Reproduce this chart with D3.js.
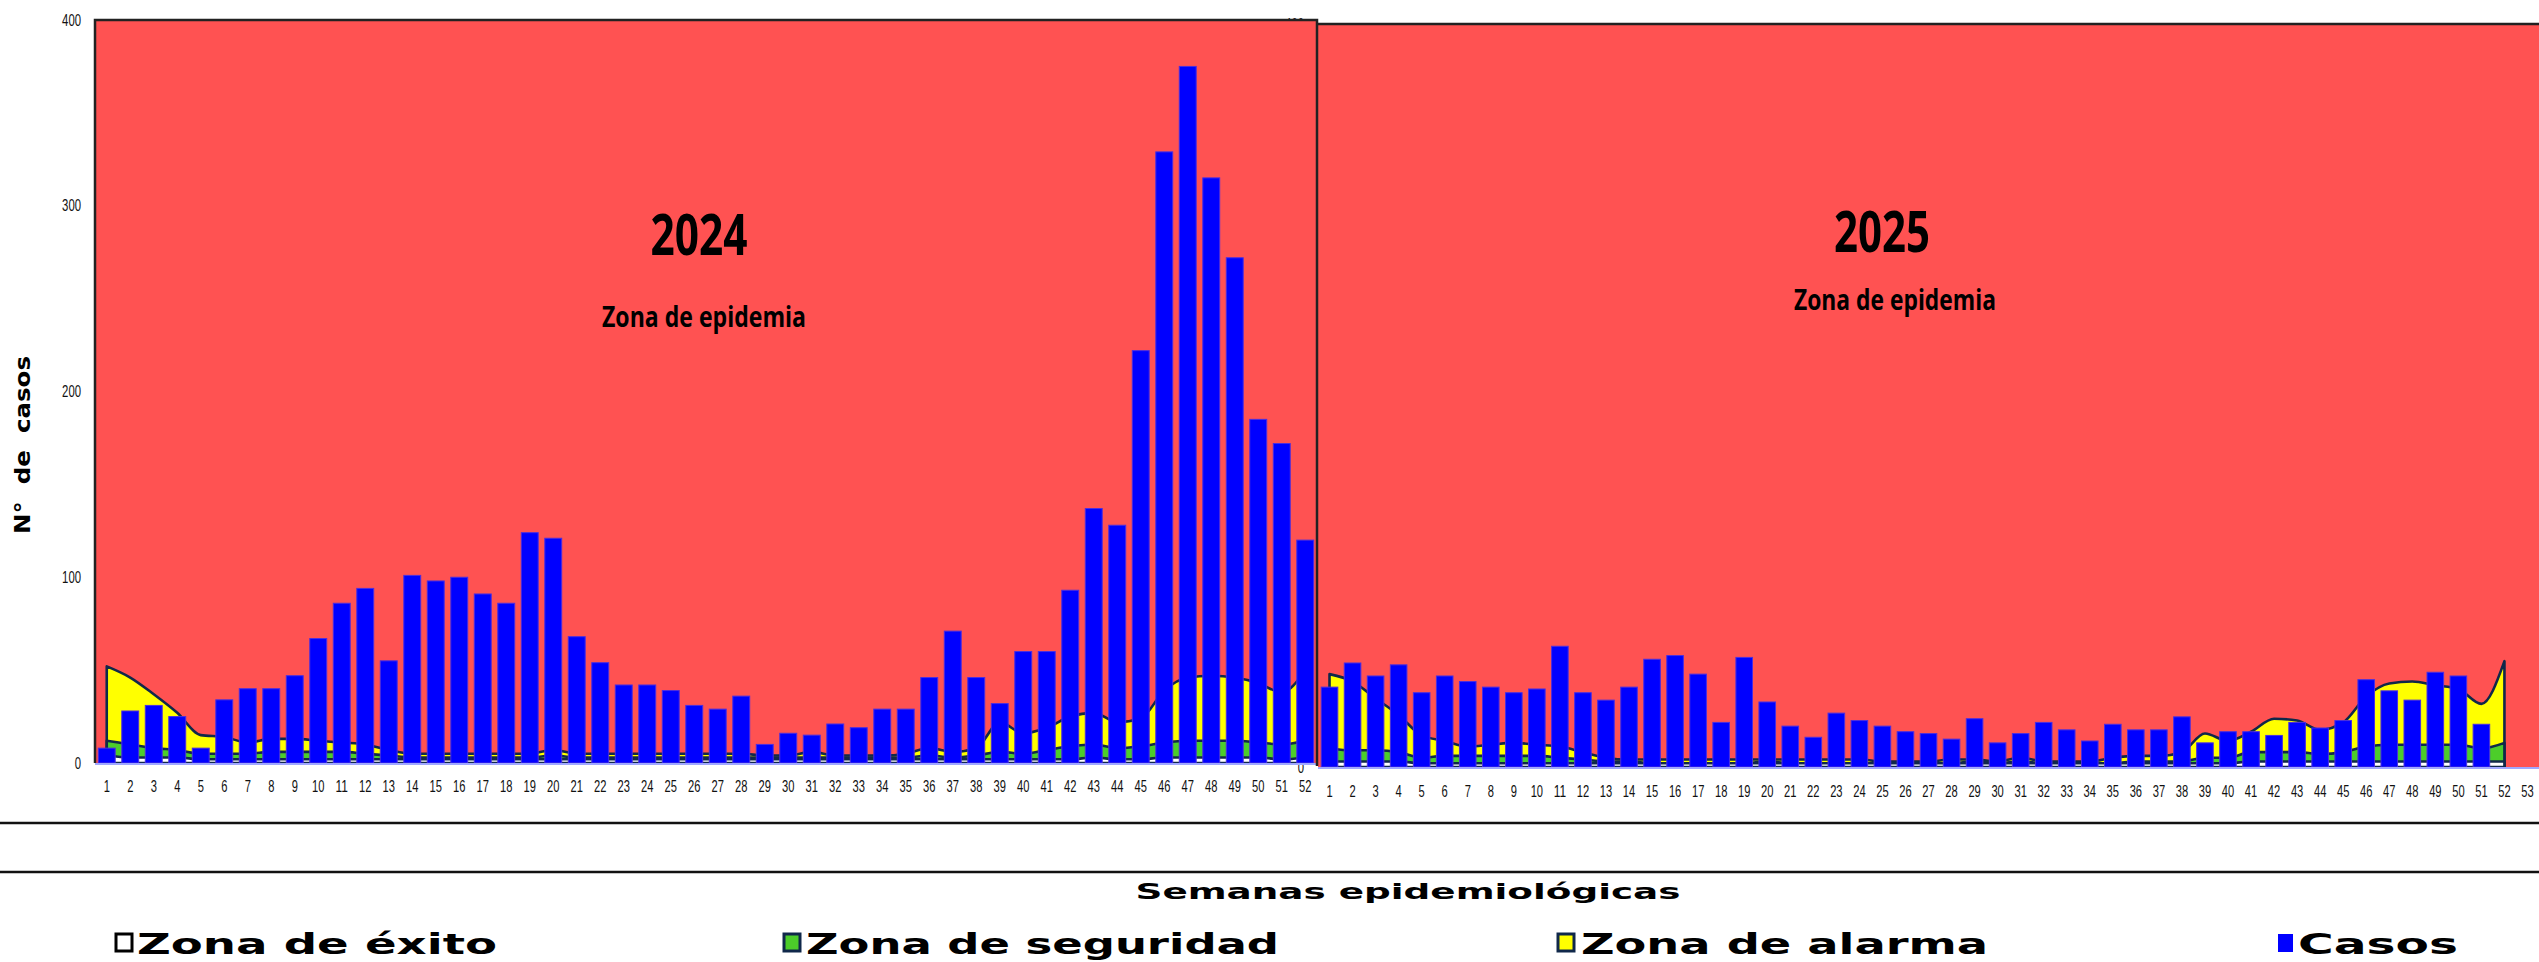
<!DOCTYPE html>
<html><head><meta charset="utf-8">
<script src="https://cdn.jsdelivr.net/npm/d3@7"></script>
<style>body{margin:0;background:#fff} svg{display:block}</style>
</head><body><svg id="c" width="2539" height="962"></svg>
<script>
// ---------- data ----------
const weeks2024 = [1,2,3,4,5,6,7,8,9,10,11,12,13,14,15,16,17,18,19,20,21,22,23,24,25,26,27,28,29,30,31,32,33,34,35,36,37,38,39,40,41,42,43,44,45,46,47,48,49,50,51,52];
const weeks2025 = [1,2,3,4,5,6,7,8,9,10,11,12,13,14,15,16,17,18,19,20,21,22,23,24,25,26,27,28,29,30,31,32,33,34,35,36,37,38,39,40,41,42,43,44,45,46,47,48,49,50,51,52,53];
const casos2024 = [8,28,31,25,8,34,40,40,47,67,86,94,55,101,98,100,91,86,124,121,68,54,42,42,39,31,29,36,10,16,15,21,19,29,29,46,71,46,32,60,60,93,137,128,222,329,375,315,272,185,172,120];
const alarma2024 = [52,46,37,27,15,14,11,13,13,12,11,10,7,5,5,5,5,5,5,7,5,5,5,5,5,5,5,5,4,4,6,4,4,4,5,8,6,8,22,16,19,25,27,22,24,39,46,47,46,43,38,50];
const seguridad2024 = [12,10,8,7,5,5,5,6,6,6,6,5,4,3,3,3,3,3,3,4,3,3,3,3,3,3,3,3,3,3,3,3,3,3,3,4,3,4,6,5,7,9,10,8,9,11,12,12,12,11,10,12];
const exito2024 = [4,3,3,3,2,2,2,2,2,2,2,2,2,2,2,2,2,2,2,2,2,2,2,2,2,2,2,2,2,2,2,2,2,2,2,2,2,2,2,2,2,2,3,2,2,3,3,3,3,3,2,3];
const casos2025 = [43,56,49,55,40,49,46,43,40,42,65,40,36,43,58,60,50,24,59,35,22,16,29,25,22,19,18,15,26,13,18,24,20,14,23,20,20,27,13,19,19,17,24,21,25,47,41,36,51,49,23];
const alarma2025 = [50,46,37,28,17,14,11,12,13,12,11,8,5,4,4,4,4,4,4,4,4,4,4,4,3,3,3,4,4,3,5,3,3,3,5,6,6,8,18,14,19,26,25,20,24,38,45,46,44,42,34,57];
const seguridad2025 = [10,9,9,8,5,6,6,6,6,6,5,4,3,3,2,2,2,2,2,3,2,2,2,2,2,2,2,2,3,2,3,2,2,2,2,3,3,3,5,5,8,8,8,7,8,11,12,12,12,12,10,13];
const exito2025 = [3,3,3,3,2,2,2,2,2,2,2,2,2,2,2,2,2,2,2,2,2,2,2,2,2,2,2,2,2,2,2,2,2,2,2,2,2,2,2,2,3,3,3,3,3,3,3,3,3,3,3,3];
const yTicks = [0,100,200,300,400];
const yearLabels = ["2024","2025"];
const zoneLabel = "Zona de epidemia";
const yTitle = "N°  de  casos";
const xTitle = "Semanas epidemiológicas";
const legendLabels = ["Zona de éxito","Zona de seguridad","Zona de alarma","Casos"];

// ---------- styles ----------
const RED = "#ff5252", YEL = "#ffff00", GRN = "#4ccd2a", NAVY = "#10284a", BLUE = "#0000ff";
const svg = d3.select("#c");
const narrow = "'Liberation Sans Narrow','Liberation Sans',Arial,sans-serif";
const cond = "'Open Sans','Noto Sans',sans-serif";
const wide = "'DejaVu Sans',Verdana,sans-serif";

function fitNums(sel, per){
  sel.each(function(){ const t=this.textContent; this.setAttribute("textLength", t.length*per); this.setAttribute("lengthAdjust","spacingAndGlyphs"); });
}

function panel(cfg){
  const g = svg.append("g");
  const x = d3.scaleBand().domain(cfg.weeks).range([cfg.x0, cfg.x1]).paddingInner(0.28).paddingOuter(0.14);
  const y = d3.scaleLinear().domain([0,400]).range([cfg.yb, cfg.yt]);
  const cx = w => x(w) + x.bandwidth()/2;
  g.append("rect").attr("x",cfg.x0).attr("y",cfg.yt).attr("width",cfg.x1-cfg.x0).attr("height",cfg.yb-cfg.yt).attr("fill",RED);
  const n = cfg.alarma.length;
  const wk = cfg.weeks.slice(0,n);
  const mk = (arr) => d3.area().x((d,i)=>cx(wk[i])).y0(y(0)).y1(d=>y(d)).curve(d3.curveMonotoneX)(arr);
  [[cfg.alarma,YEL],[cfg.seguridad,GRN],[cfg.exito,"#ffffff"]].forEach(([arr,col])=>{
    g.append("path").attr("d",mk(arr)).attr("fill",col).attr("stroke",NAVY).attr("stroke-width",2.6).attr("stroke-linejoin","round");
  });
  g.selectAll("rect.bar").data(cfg.casos).join("rect").attr("class","bar")
    .attr("x",(d,i)=>x(cfg.weeks[i])).attr("width",x.bandwidth())
    .attr("y",d=>y(d)).attr("height",d=>y(0)-y(d))
    .attr("fill",BLUE).attr("stroke","#4a2ee0").attr("stroke-width",1);
  g.append("line").attr("x1",cfg.x0).attr("x2",cfg.x1).attr("y1",y(0)+1).attr("y2",y(0)+1).attr("stroke","#a0a8ff").attr("stroke-width",2);
  const ax = g.append("g").attr("transform",`translate(0,${cfg.yb})`).call(d3.axisBottom(x).tickSize(0).tickPadding(cfg.pad));
  ax.select(".domain").remove();
  ax.selectAll("text").attr("font-family",narrow).attr("font-size",16).attr("fill","#111").call(fitNums,6.2);
  return {g,x,y};
}

// right panel (2025)
const R = panel({weeks:weeks2025, x0:1318, x1:2539, yt:24, yb:767, pad:19,
  casos:casos2025, alarma:alarma2025, seguridad:seguridad2025, exito:exito2025});
R.g.append("line").attr("x1",1318).attr("x2",2539).attr("y1",24).attr("y2",24).attr("stroke","#222").attr("stroke-width",2.5);
const ryAx = svg.append("g").attr("transform","translate(1318,0)").call(d3.axisLeft(R.y).tickValues(yTicks).tickSize(0).tickPadding(14));
ryAx.select(".domain").remove();
ryAx.selectAll("text").attr("font-family",narrow).attr("font-size",16).attr("fill","#111").call(fitNums,6.3);

// left panel (2024)
const L = panel({weeks:weeks2024, x0:95, x1:1317, yt:20, yb:763, pad:18,
  casos:casos2024, alarma:alarma2024, seguridad:seguridad2024, exito:exito2024});
L.g.append("path").attr("d","M95,763 L95,20 L1317,20 L1317,766").attr("fill","none").attr("stroke","#222").attr("stroke-width",2.5);
const lyAx = svg.append("g").attr("transform","translate(95,0)").call(d3.axisLeft(L.y).tickValues(yTicks).tickSize(0).tickPadding(14));
lyAx.select(".domain").remove();
lyAx.selectAll("text").attr("font-family",narrow).attr("font-size",16).attr("fill","#111").call(fitNums,6.3);

function title(txt,x,y,fs,len){
  svg.append("text").attr("x",x).attr("y",y).attr("text-anchor","middle").attr("font-family",cond).attr("font-weight",700)
    .attr("font-size",fs).attr("fill","#000").attr("textLength",len).attr("lengthAdjust","spacingAndGlyphs").text(txt);
}
title(yearLabels[0],699,255,57,97);
title(zoneLabel,704,327,29,204);
title(yearLabels[1],1882,252,57,96);
title(zoneLabel,1895,310,29,202);

svg.append("text").attr("transform","translate(30,445) rotate(-90)").attr("text-anchor","middle")
  .attr("font-family",wide).attr("font-weight",700).attr("font-size",21).attr("fill","#000")
  .attr("textLength",178).attr("lengthAdjust","spacingAndGlyphs").style("white-space","pre").text(yTitle);

[823,872].forEach(yy=>svg.append("line").attr("x1",0).attr("x2",2539).attr("y1",yy).attr("y2",yy).attr("stroke","#111").attr("stroke-width",2.5));

svg.append("text").attr("x",1408).attr("y",899).attr("text-anchor","middle").attr("font-family",wide).attr("font-weight",700)
  .attr("font-size",22).attr("fill","#000").attr("textLength",545).attr("lengthAdjust","spacingAndGlyphs").text(xTitle);

const legend = [
  {label:legendLabels[0], fill:"#ffffff", stroke:"#000", sx:116, tx:137, te:497},
  {label:legendLabels[1], fill:GRN, stroke:NAVY, sx:784, tx:806, te:1279},
  {label:legendLabels[2], fill:YEL, stroke:NAVY, sx:1558, tx:1581, te:1988},
  {label:legendLabels[3], fill:BLUE, stroke:"none", sx:2278, tx:2298, te:2458}
];
legend.forEach(l=>{
  const sw = l.stroke==="none" ? 15 : 16;
  svg.append("rect").attr("x",l.sx).attr("y",934).attr("width",sw).attr("height",l.stroke==="none"?18:17).attr("fill",l.fill)
    .attr("stroke",l.stroke).attr("stroke-width",l.stroke==="none"?0:3);
  svg.append("text").attr("x",l.tx).attr("y",954).attr("font-family",wide).attr("font-weight",700).attr("font-size",29)
    .attr("fill","#000").attr("textLength",l.te-l.tx).attr("lengthAdjust","spacingAndGlyphs").text(l.label);
});
</script></body></html>
